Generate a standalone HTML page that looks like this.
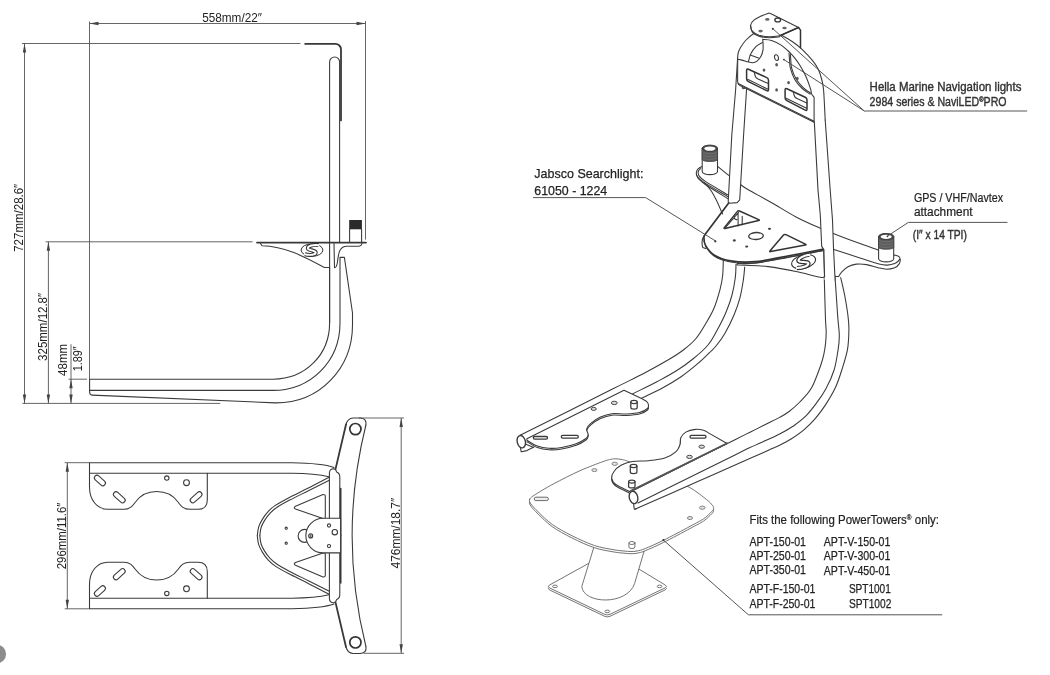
<!DOCTYPE html>
<html><head><meta charset="utf-8">
<style>
html,body{margin:0;padding:0;background:#fff;}
body{width:1050px;height:675px;overflow:hidden;font-family:"Liberation Sans",sans-serif;}
svg{will-change:transform;display:block;position:absolute;left:0;top:0}
.l{stroke:#3a3a3a;stroke-width:1.08;fill:none;stroke-linecap:round;stroke-linejoin:round}
.w{stroke:#3a3a3a;stroke-width:1.08;fill:#fff;stroke-linecap:round;stroke-linejoin:round}
.g{stroke:#8a8a8a;stroke-width:1;fill:#fff;stroke-linecap:round;stroke-linejoin:round}
.w2{stroke:#636363;stroke-width:0.9;fill:#fff;stroke-linecap:round;stroke-linejoin:round}
.l2{stroke:#636363;stroke-width:0.9;fill:none}
.k2{stroke:#555;stroke-width:1.8;fill:none;stroke-linecap:round}
.k3{stroke:#333;stroke-width:1.5;fill:#fff;stroke-linecap:round;stroke-linejoin:round}
.ld{stroke:#4c4c4c;stroke-width:0.95;fill:none}
.k4{stroke:#333;stroke-width:1.7;fill:none;stroke-linecap:round;stroke-linejoin:round}
.h{stroke:#444;stroke-width:1;fill:#ddd}
.h2{stroke:#777;stroke-width:0.9;fill:#e4e4e4}
.gl{stroke:#8a8a8a;stroke-width:1;fill:none;stroke-linecap:round;stroke-linejoin:round}
.d{stroke:#555;stroke-width:0.9;fill:none}
.k{stroke:#383838;stroke-width:1.8;fill:none;stroke-linecap:round;stroke-linejoin:round}
.a{fill:#444;stroke:none}
text{font-family:"Liberation Sans",sans-serif;fill:#222;}
.dt{font-size:13px}
</style></head><body>
<svg width="1050" height="675" viewBox="0 0 1050 675">
<rect width="1050" height="675" fill="#fff"/>
<defs><g id="logo"><ellipse cx="0" cy="0" rx="10.9" ry="6.2" fill="#fff" stroke="#333" stroke-width="1"/>
<path d="M6.6,-5C1.4,-5.8 -4.2,-4.2 -4.2,-1.9C-4.2,0.4 3.4,0 3.7,2.3C4,4.7 -1.8,5.6 -7.2,4.2" fill="none" stroke="#333" stroke-width="4" stroke-linecap="butt"/>
<path d="M7.2,-4.9C1.4,-5.8 -4.2,-4.2 -4.2,-1.9C-4.2,0.4 3.4,0 3.7,2.3C4,4.7 -1.8,5.6 -7.8,4" fill="none" stroke="#fff" stroke-width="1.9" stroke-linecap="butt"/></g></defs>
<circle cx="-3.1" cy="654" r="9.2" fill="#8c8c8c"/>

<!-- ============ SIDE VIEW ============ -->
<g id="side">
<!-- dims -->
<path class="d" d="M89.5,21.5V379 M365.5,21V239.6 M89.5,23.5H365.5 M22,43.5H300.4 M24.5,43.5V403.4 M45.6,241.8H252.6 M48.4,241.8V403.4 M71,344.3V403.4 M68.5,379.2H87 M22.4,403.4H220.3"/>
<path class="a" d="M89.5,23.5l9,-1.7v3.4z M365.5,23.5l-9,-1.7v3.4z M24.5,43.5l-1.7,9h3.4z M24.5,403.4l-1.7,-9h3.4z M48.4,241.8l-1.7,9h3.4z M48.4,403.4l-1.7,-9h3.4z M71,379.2l-1.7,9h3.4z M71,403.4l-1.7,-9h3.4z"/>
<!-- tube -->
<path class="l" d="M329.6,323V62a5,5 0 0 1 10,0V242.6"/>
<path class="l" d="M329.6,267.6V322C330,355 305,379.2 273,379.2H89.6V392"/>
<path class="l" d="M340,257.4V323C340,362 310,390.4 273,390.4H89.6"/>
<path class="l" d="M89.6,392Q89.8,395 92,395.1L275.7,402.9C320,403 352.5,368 352.5,325V313L344.4,257.4H340.4"/>
<!-- top bracket -->
<path class="k" d="M305.2,43.9H335.5a5.5,5.5 0 0 1 5.5,5.5V120.4"/>
<!-- plate -->
<path class="k" d="M257,242.6H366"/>
<path class="l" d="M260.5,243.5L262,245.8C285,246.5 303,256 324.4,267.5H329.6"/>
<path class="l" d="M334,243.5L334.5,267.8Q336.5,268 337.5,262C338.5,252 340,246.2 347,246.2H359Q361.5,246 362,243.5"/>
<use href="#logo" transform="translate(312,250.1)"/>
<!-- stud -->
<rect x="349.2" y="220" width="12.7" height="9.3" fill="#2a2a2a"/>
<path class="l" d="M349.6,229V242 M361.6,229V242"/>
<!-- texts -->
<text class="dt" x="202.2" y="22" textLength="59.7" lengthAdjust="spacingAndGlyphs">558mm/22″</text>
<text class="dt" transform="translate(23,251.8) rotate(-90)" textLength="68" lengthAdjust="spacingAndGlyphs">727mm/28.6″</text>
<text class="dt" transform="translate(46.8,360.9) rotate(-90)" textLength="68" lengthAdjust="spacingAndGlyphs">325mm/12.8″</text>
<text class="dt" transform="translate(67.4,375.9) rotate(-90)" textLength="32" lengthAdjust="spacingAndGlyphs">48mm</text>
<text class="dt" transform="translate(82,371.3) rotate(-90)" textLength="25" lengthAdjust="spacingAndGlyphs">1.89″</text>
</g>
<!-- ============ TOP VIEW ============ -->
<g id="top">
<path class="d" d="M64.7,462.7H89.5 M64.7,608.8H89.5 M67.3,462.7V608.8 M358.7,418H404 M363.7,653.3H404 M401.2,418V653.3"/>
<path class="a" d="M67.3,462.7l-1.7,9h3.4z M67.3,608.8l-1.7,-9h3.4z M401.2,418l-1.7,9h3.4z M401.2,653.3l-1.7,-9h3.4z"/>
<!-- cross bar -->
<path class="l" d="M365.9,425A458.6,458.6 0 0 0 365.9,646.5"/>
<g id="th">
<path class="l" d="M365.9,425Q367,418.6 360.5,418H353Q347.6,418.4 346,424.5"/>
<path class="k" d="M346,424.5L335.4,469.6" style="stroke-width:1.8"/>
<circle cx="355.4" cy="429.1" r="5.6" fill="none" stroke="#333" stroke-width="1.7"/>
<!-- tube -->
<path class="l" d="M89.5,473.3V462.7H292C312,463 326,464.5 334,467.4"/>
<path class="l" d="M207.3,473.3H292C310,473.6 321,475 328.8,476.8"/>
<!-- mount plate -->
<path class="l" d="M89.5,473.3H207.3V500Q207.3,509.3 198,509.3H190C183,509.3 181,506 178,502C173,495 165,491.5 156.7,491.5C148,491.5 140.5,495 135.5,502C132.5,506 130,509.3 124,509.3H108C97,509.3 89.5,500 89.5,487Z"/>
<rect class="l" x="93.4" y="477.9" width="13" height="5.2" rx="2.6" transform="rotate(42 99.9 480.5)"/>
<rect class="l" x="112.3" y="494.7" width="14" height="5.2" rx="2.6" transform="rotate(42 119.3 497.3)"/>
<rect class="l" x="189.1" y="494.7" width="14" height="5.2" rx="2.6" transform="rotate(-42 196.1 497.3)"/>
<circle class="l" cx="166.8" cy="478.1" r="2.2"/>
<circle class="l" cx="186.5" cy="482.7" r="2.9"/>
<!-- D plate -->
<path class="l" d="M329.0,477.3C325.5,479.1 314.6,484.9 307.8,488.3C301.1,491.7 294.0,495.0 288.5,497.9C283.0,500.8 278.4,503.4 275.0,505.6C271.6,507.9 270.4,509.1 268.3,511.4C266.2,513.6 264.1,516.5 262.5,519.1C260.9,521.7 259.6,524.0 258.7,526.8C257.8,529.6 257.5,534.3 257.3,535.8"/>
<path class="l" d="M329.3,480.2C325.9,481.9 315.5,487.2 308.9,490.5C302.3,493.8 295.1,497.3 289.7,500.1C284.2,503.0 279.6,505.5 276.4,507.7C273.1,509.8 272.1,511.0 270.1,513.1C268.2,515.2 266.1,518.0 264.6,520.4C263.1,522.8 261.9,525.0 261.1,527.5C260.3,530.1 260.0,534.4 259.8,535.8"/>
<!-- triangle -->
<path class="l" d="M323,494.6Q325.3,494.3 325.3,496.5V517Q325.2,519.3 323,518.6L295.5,509Q293,507.8 295.5,506.3Z"/>
<!-- bracket -->
<path class="w" d="M329.4,535.75V473Q329.6,468.8 333.5,468.8Q336,469 336.6,472Q339.8,473.2 339.8,477V535.75"/>
<path class="k" d="M340.7,488.5V535.75" style="stroke-width:1.6"/>
</g>
<use href="#th" transform="translate(0,1071.5) scale(1,-1)"/>
<!-- small circle & plate -->
<circle class="l" cx="304.6" cy="535.9" r="6.5"/>
<path class="w" d="M340.6,518.2H323.2A17.3,17.3 0 0 0 323.2,552.9H340.6Z"/>
<circle class="l" cx="329" cy="525.5" r="1.6"/>
<circle class="l" cx="329" cy="546.1" r="1.6"/>
<circle class="l" cx="334.8" cy="532.2" r="2.7"/>
<circle class="l" cx="310.7" cy="535.9" r="2"/>
<circle cx="310.7" cy="535.9" r="1" fill="#555"/>
<circle class="l" cx="286.2" cy="528.2" r="1.1"/>
<circle class="l" cx="286.2" cy="543.2" r="1.1"/>
<text class="dt" transform="translate(65.6,569.3) rotate(-90)" textLength="66.6" lengthAdjust="spacingAndGlyphs">296mm/11.6″</text>
<text class="dt" transform="translate(400,568.5) rotate(-90)" textLength="70.7" lengthAdjust="spacingAndGlyphs">476mm/18.7″</text>
</g>
<!--TOPVIEW_END-->
<!--ISO--><g id="iso">
<path class="w2" d="M549.5,589.9Q546.8,588.6 549.4,587.1L607.4,555.0Q610.0,553.5 612.6,555.1L665.2,587.0Q667.8,588.6 665.1,589.9L610.0,616.3Q607.3,617.6 604.6,616.3Z"/>
<path class="w2" d="M549.5,587.9Q546.8,586.6 549.4,585.1L607.4,553.0Q610.0,551.5 612.6,553.1L665.2,585.0Q667.8,586.6 665.1,587.9L610.0,614.3Q607.3,615.6 604.6,614.3Z"/>
<ellipse class="l2" cx="555" cy="586.4" rx="2.4" ry="1.3"/>
<ellipse class="l2" cx="659.6" cy="586.4" rx="2.4" ry="1.3"/>
<ellipse class="l2" cx="607.3" cy="611.4" rx="2.4" ry="1.3"/>
<path class="w2" d="M594.4,545.5L581.8,586.4C583,604 627,606 634.6,583.5L644.5,549.8Z"/>
<path class="w2" d="M529.6,501.8C530.1,500.4 530.0,500.2 534.0,497.6C538.0,495.0 545.6,490.3 553.3,486.2C561.0,482.1 571.7,476.6 580.0,472.9C588.3,469.2 597.8,465.7 603.0,463.8C608.2,461.9 608.8,462.0 611.0,461.5C613.2,461.0 614.2,460.9 616.0,461.0C617.8,461.1 619.7,461.3 622.0,461.8C624.3,462.3 623.7,461.9 630.0,464.2C636.3,466.5 650.1,471.5 660.0,475.7C669.9,479.9 681.4,485.1 689.1,489.4C696.9,493.7 702.6,498.7 706.5,501.7C710.4,504.7 711.1,506.0 712.3,507.5C713.5,509.0 713.7,509.5 713.6,510.6C713.5,511.7 713.2,512.3 711.5,514.0C709.8,515.7 707.2,518.6 703.6,521.0C700.0,523.4 696.8,524.9 690.1,528.5C683.4,532.1 670.9,538.8 663.4,542.5C655.9,546.2 649.5,549.0 645.1,550.8C640.7,552.6 639.4,552.7 637.0,553.2C634.6,553.7 633.2,553.7 631.0,553.7C628.8,553.7 626.8,553.5 624.0,553.2C621.2,552.9 619.0,552.9 614.1,552.0C609.2,551.1 601.4,550.1 594.4,547.7C587.4,545.4 578.9,541.4 571.9,537.9C564.9,534.4 557.8,530.6 552.2,526.6C546.6,522.6 541.6,517.4 538.1,514.0C534.6,510.6 532.4,508.2 531.0,506.2C529.6,504.2 529.1,503.2 529.6,501.8Z"/>
<path class="w2" d="M529.6,499.6C530.1,498.2 530.0,498.0 534.0,495.4C538.0,492.8 545.6,488.1 553.3,484.0C561.0,479.9 571.7,474.4 580.0,470.7C588.3,467.0 597.8,463.5 603.0,461.6C608.2,459.7 608.8,459.8 611.0,459.3C613.2,458.8 614.2,458.8 616.0,458.8C617.8,458.9 619.7,459.1 622.0,459.6C624.3,460.1 623.7,459.7 630.0,462.0C636.3,464.3 650.1,469.3 660.0,473.5C669.9,477.7 681.4,482.9 689.1,487.2C696.9,491.5 702.6,496.5 706.5,499.5C710.4,502.5 711.1,503.8 712.3,505.3C713.5,506.8 713.7,507.3 713.6,508.4C713.5,509.5 713.2,510.1 711.5,511.8C709.8,513.5 707.2,516.4 703.6,518.8C700.0,521.2 696.8,522.7 690.1,526.3C683.4,529.9 670.9,536.6 663.4,540.3C655.9,544.0 649.5,546.8 645.1,548.6C640.7,550.4 639.4,550.5 637.0,551.0C634.6,551.5 633.2,551.5 631.0,551.5C628.8,551.5 626.8,551.3 624.0,551.0C621.2,550.7 619.0,550.7 614.1,549.8C609.2,548.9 601.4,547.9 594.4,545.5C587.4,543.1 578.9,539.2 571.9,535.7C564.9,532.2 557.8,528.4 552.2,524.4C546.6,520.4 541.6,515.2 538.1,511.8C534.6,508.4 532.4,506.0 531.0,504.0C529.6,502.0 529.1,501.0 529.6,499.6Z"/>
<rect x="534.2" y="497.2" width="14.2" height="3.4" rx="1.7" fill="#eee" stroke="#6a6a6a" stroke-width="1"/>
<ellipse class="h2" cx="594.4" cy="470.1" rx="2.6" ry="1.5"/>
<ellipse class="h2" cx="614.7" cy="463.8" rx="2.8" ry="1.6"/>
<ellipse class="h2" cx="702.3" cy="507.7" rx="2.8" ry="1.6"/>
<ellipse class="h2" cx="690" cy="518" rx="2.6" ry="1.5"/>
<path class="w2" d="M628.9,543V547A3,1.5 0 0 0 634.9,547V543"/>
<ellipse class="w2" cx="631.9" cy="543" rx="3" ry="1.5"/>
<circle cx="663.4" cy="540.1" r="1.1" fill="#333"/>
<path d="M834.9,275.6C835.2,279.7 836.1,292.6 836.6,300.0C837.1,307.4 837.5,314.0 838.0,320.0C838.5,326.0 839.3,330.9 839.3,336.0C839.3,341.1 838.9,344.6 838.0,350.3C837.1,356.0 836.1,363.6 834.1,370.0C832.1,376.4 828.8,383.5 825.8,389.0C822.8,394.5 819.8,398.7 816.4,403.2C813.0,407.7 809.5,412.4 805.7,416.2C801.9,419.9 798.1,422.7 793.8,425.7C789.4,428.7 784.9,431.2 779.6,434.0C774.3,436.8 766.7,440.0 761.8,442.3C756.9,444.6 754.5,445.5 750.0,447.6C745.5,449.7 743.3,450.9 735.0,455.0C726.7,459.1 716.2,464.3 700.0,472.3C683.8,480.3 648.3,497.9 638.0,503.0L634.8,509.3C645.7,504.5 680.5,489.1 700.0,480.5C719.5,471.9 740.5,462.6 752.0,457.5C763.5,452.4 764.4,452.1 769.0,450.0C773.6,447.9 775.9,447.1 779.6,445.2C783.4,443.3 787.5,441.2 791.5,438.7C795.5,436.2 799.3,433.8 803.3,430.4C807.2,427.0 811.5,422.9 815.2,418.6C819.0,414.3 822.4,409.5 825.8,404.4C829.1,399.3 832.6,393.5 835.3,387.8C838.0,382.1 839.8,376.4 841.8,370.0C843.8,363.6 846.3,356.0 847.5,349.3C848.7,342.6 848.8,335.4 848.9,330.0C849.0,324.6 848.8,322.5 848.1,317.0C847.5,311.5 846.2,303.6 845.0,297.0C843.8,290.4 841.4,280.8 840.7,277.5Z" fill="#fff" stroke="none"/>
<path d="M824.2,275.6C824.3,279.7 824.7,292.6 824.9,300.0C825.1,307.4 825.3,314.7 825.5,320.0C825.7,325.3 826.2,328.2 826.2,332.0C826.2,335.8 826.0,339.2 825.6,343.0C825.2,346.8 824.6,350.8 823.8,354.5C823.0,358.2 822.8,359.4 820.8,365.0C818.8,370.6 815.1,381.6 811.6,387.8C808.1,394.0 803.5,398.1 799.8,402.0C796.0,405.9 792.5,408.9 789.1,411.5C785.7,414.1 783.6,415.2 779.6,417.4C775.6,419.6 770.3,422.0 765.4,424.5C760.5,427.0 755.1,429.7 750.0,432.2C744.9,434.7 743.3,435.5 735.0,439.7C726.7,443.9 717.2,448.5 700.0,457.1C682.8,465.7 643.0,485.5 631.6,491.2L638.0,503.0C648.3,497.9 683.8,480.3 700.0,472.3C716.2,464.3 726.7,459.1 735.0,455.0C743.3,450.9 745.5,449.7 750.0,447.6C754.5,445.5 756.9,444.6 761.8,442.3C766.7,440.0 774.3,436.8 779.6,434.0C784.9,431.2 789.4,428.7 793.8,425.7C798.1,422.7 801.9,419.9 805.7,416.2C809.5,412.4 813.0,407.7 816.4,403.2C819.8,398.7 822.8,394.5 825.8,389.0C828.8,383.5 832.1,376.4 834.1,370.0C836.1,363.6 837.1,356.0 838.0,350.3C838.9,344.6 839.3,341.1 839.3,336.0C839.3,330.9 838.5,326.0 838.0,320.0C837.5,314.0 837.1,307.4 836.6,300.0C836.1,292.6 835.2,279.7 834.9,275.6Z" fill="#fff" stroke="none"/>
<path class="l" d="M824.2,275.6C824.3,279.7 824.7,292.6 824.9,300.0C825.1,307.4 825.3,314.7 825.5,320.0C825.7,325.3 826.2,328.2 826.2,332.0C826.2,335.8 826.0,339.2 825.6,343.0C825.2,346.8 824.6,350.8 823.8,354.5C823.0,358.2 822.8,359.4 820.8,365.0C818.8,370.6 815.1,381.6 811.6,387.8C808.1,394.0 803.5,398.1 799.8,402.0C796.0,405.9 792.5,408.9 789.1,411.5C785.7,414.1 783.6,415.2 779.6,417.4C775.6,419.6 770.3,422.0 765.4,424.5C760.5,427.0 755.1,429.7 750.0,432.2C744.9,434.7 743.3,435.5 735.0,439.7C726.7,443.9 717.2,448.5 700.0,457.1C682.8,465.7 643.0,485.5 631.6,491.2"/>
<path class="l" d="M834.9,275.6C835.2,279.7 836.1,292.6 836.6,300.0C837.1,307.4 837.5,314.0 838.0,320.0C838.5,326.0 839.3,330.9 839.3,336.0C839.3,341.1 838.9,344.6 838.0,350.3C837.1,356.0 836.1,363.6 834.1,370.0C832.1,376.4 828.8,383.5 825.8,389.0C822.8,394.5 819.8,398.7 816.4,403.2C813.0,407.7 809.5,412.4 805.7,416.2C801.9,419.9 798.1,422.7 793.8,425.7C789.4,428.7 784.9,431.2 779.6,434.0C774.3,436.8 766.7,440.0 761.8,442.3C756.9,444.6 754.5,445.5 750.0,447.6C745.5,449.7 743.3,450.9 735.0,455.0C726.7,459.1 716.2,464.3 700.0,472.3C683.8,480.3 648.3,497.9 638.0,503.0"/>
<path class="l" d="M840.7,277.5C841.4,280.8 843.8,290.4 845.0,297.0C846.2,303.6 847.5,311.5 848.1,317.0C848.8,322.5 849.0,324.6 848.9,330.0C848.8,335.4 848.7,342.6 847.5,349.3C846.3,356.0 843.8,363.6 841.8,370.0C839.8,376.4 838.0,382.1 835.3,387.8C832.6,393.5 829.1,399.3 825.8,404.4C822.4,409.5 819.0,414.3 815.2,418.6C811.5,422.9 807.2,427.0 803.3,430.4C799.3,433.8 795.5,436.2 791.5,438.7C787.5,441.2 783.4,443.3 779.6,445.2C775.9,447.1 773.6,447.9 769.0,450.0C764.4,452.1 763.5,452.4 752.0,457.5C740.5,462.6 719.5,471.9 700.0,480.5C680.5,489.1 645.7,504.5 634.8,509.3"/>
<path class="l" d="M633.6,503.6L634.2,508.6Q634.6,509.6 635.8,509"/>
<ellipse class="w" cx="633.5" cy="497.4" rx="4.2" ry="6.3" transform="rotate(-14 633.5 497.4)" style="stroke-width:1.4"/>
<path class="w" d="M685.8,433.6C685.0,434.6 681.8,437.3 680.8,439.3C679.8,441.3 680.9,443.5 680.1,445.8C679.3,448.1 678.7,450.8 676.1,453.1C673.5,455.4 669.4,458.0 664.8,459.5C660.2,461.0 654.0,461.6 648.6,462.2C643.2,462.8 637.0,462.2 632.4,463.0C627.8,463.8 624.1,465.1 621.0,466.8C617.9,468.5 615.3,471.1 613.8,473.3C612.2,475.5 611.3,477.6 611.7,479.8C612.1,482.0 613.3,484.2 616.2,486.3C619.1,488.4 627.0,491.6 629.1,492.7"/>
<path class="w" d="M629.6,491.4L727.1,443.5L708,432.6L708.0,432.6C707.3,432.2 705.7,430.7 703.6,430.2C701.5,429.7 698.5,429.1 695.5,429.4C692.5,429.7 688.2,430.7 685.8,432.1C683.3,433.5 681.8,435.8 680.8,437.8C679.8,439.8 680.9,442.0 680.1,444.3C679.3,446.6 678.7,449.3 676.1,451.6C673.5,453.9 669.4,456.5 664.8,458.0C660.2,459.5 654.0,460.1 648.6,460.7C643.2,461.3 637.0,460.7 632.4,461.5C627.8,462.3 624.1,463.6 621.0,465.3C617.9,467.0 615.3,469.6 613.8,471.8C612.2,474.0 611.3,476.1 611.7,478.3C612.1,480.5 613.3,482.7 616.2,484.8C619.1,486.9 627.0,490.1 629.1,491.2Z"/>
<path class="k2" d="M631,490.9L727.1,443.2"/>
<rect class="l" x="690" y="435.4" width="16" height="2.7" rx="1.35" style="stroke-width:1.3"/>
<ellipse class="h" cx="701.7" cy="446.7" rx="2.8" ry="1.6"/>
<ellipse class="h" cx="689.5" cy="456.9" rx="2.8" ry="1.6"/>
<path class="w" d="M630.3,466V472A3.3,1.6 0 0 0 636.9,472V466" style="stroke-width:1.25"/>
<ellipse class="w" cx="633.6" cy="466" rx="3.3" ry="1.6" style="stroke-width:1.25"/>
<path class="w" d="M628.6,481.6V486.4A3.2,1.5 0 0 0 635,486.4V481.6" style="stroke-width:1.25"/>
<ellipse class="w" cx="631.8" cy="481.6" rx="3.2" ry="1.5" style="stroke-width:1.25"/>
<path d="M736.0,264.3C735.9,266.5 736.0,272.6 735.3,277.7C734.6,282.8 733.5,289.2 732.0,295.0C730.5,300.8 728.5,306.3 726.0,312.3C723.5,318.3 719.7,325.6 716.7,331.0C713.7,336.4 712.0,340.3 708.0,345.0C704.0,349.7 698.2,354.7 692.9,359.0C687.6,363.3 682.3,367.1 676.4,370.8C670.5,374.6 664.7,377.6 657.4,381.5C650.1,385.4 636.6,391.8 632.5,393.9L640.8,398.6C644.5,396.7 656.6,391.0 663.3,387.4C670.0,383.8 675.4,380.6 681.1,376.7C686.8,372.8 693.0,367.7 697.7,363.7C702.4,359.7 706.5,355.6 709.5,352.6C712.5,349.7 713.5,349.1 716.0,346.0C718.5,342.9 721.7,338.9 724.7,333.7C727.7,328.5 731.5,321.0 734.0,315.0C736.5,309.0 738.5,303.5 740.0,297.7C741.5,291.9 742.5,285.4 743.3,280.3C744.1,275.2 744.5,269.2 744.7,267.0Z" fill="#fff" stroke="none"/>
<path d="M723.3,259.7C723.2,262.2 723.2,270.0 722.7,275.0C722.2,280.0 721.5,284.1 720.0,289.7C718.5,295.2 716.4,302.6 714.0,308.3C711.6,314.0 708.5,319.0 705.5,324.0C702.5,329.0 699.6,334.2 696.0,338.5C692.4,342.8 688.5,346.0 684.0,349.5C679.5,353.0 675.6,355.5 669.2,359.3C662.8,363.1 655.0,367.5 645.5,372.5C636.0,377.5 633.0,378.8 612.0,389.3C591.0,399.8 535.0,427.9 519.6,435.6L527.0,446.5C544.6,437.7 610.8,404.7 632.5,393.9C654.2,383.1 650.1,385.4 657.4,381.5C664.7,377.6 670.5,374.6 676.4,370.8C682.3,367.1 687.6,363.3 692.9,359.0C698.2,354.7 704.0,349.7 708.0,345.0C712.0,340.3 713.7,336.4 716.7,331.0C719.7,325.6 723.5,318.3 726.0,312.3C728.5,306.3 730.5,300.8 732.0,295.0C733.5,289.2 734.6,282.8 735.3,277.7C736.0,272.6 735.9,266.5 736.0,264.3Z" fill="#fff" stroke="none"/>
<path class="l" d="M723.3,259.7C723.2,262.2 723.2,270.0 722.7,275.0C722.2,280.0 721.5,284.1 720.0,289.7C718.5,295.2 716.4,302.6 714.0,308.3C711.6,314.0 708.5,319.0 705.5,324.0C702.5,329.0 699.6,334.2 696.0,338.5C692.4,342.8 688.5,346.0 684.0,349.5C679.5,353.0 675.6,355.5 669.2,359.3C662.8,363.1 655.0,367.5 645.5,372.5C636.0,377.5 633.0,378.8 612.0,389.3C591.0,399.8 535.0,427.9 519.6,435.6"/>
<path class="l" d="M736.0,264.3C735.9,266.5 736.0,272.6 735.3,277.7C734.6,282.8 733.5,289.2 732.0,295.0C730.5,300.8 728.5,306.3 726.0,312.3C723.5,318.3 719.7,325.6 716.7,331.0C713.7,336.4 712.0,340.3 708.0,345.0C704.0,349.7 698.2,354.7 692.9,359.0C687.6,363.3 682.3,367.1 676.4,370.8C670.5,374.6 664.7,377.6 657.4,381.5C650.1,385.4 636.6,391.8 632.5,393.9"/>
<path class="l" d="M744.7,267.0C744.5,269.2 744.1,275.2 743.3,280.3C742.5,285.4 741.5,291.9 740.0,297.7C738.5,303.5 736.5,309.0 734.0,315.0C731.5,321.0 727.7,328.5 724.7,333.7C721.7,338.9 718.5,342.9 716.0,346.0C713.5,349.1 712.5,349.7 709.5,352.6C706.5,355.6 702.4,359.7 697.7,363.7C693.0,367.7 686.8,372.8 681.1,376.7C675.4,380.6 670.0,383.8 663.3,387.4C656.6,391.0 644.5,396.7 640.8,398.6"/>
<path class="l" d="M520.4,447.3L521.2,451.8L526.9,450.6L534,447"/>
<path class="l" d="M526,444.2L533,447.2"/>
<ellipse class="w" cx="521.3" cy="441.7" rx="4.1" ry="6.3" transform="rotate(-14 521.3 441.7)" style="stroke-width:1.4"/>
<path class="w" d="M646.8,403.1C647.1,403.6 648.3,405.2 648.4,406.3C648.5,407.4 649.0,408.7 647.5,410.0C646.0,411.3 642.9,413.2 639.4,414.1C635.9,415.0 631.0,415.3 626.4,415.5C621.8,415.7 616.2,414.7 611.9,415.2C607.6,415.7 604.0,416.9 600.5,418.5C597.0,420.1 593.1,422.9 590.8,424.9C588.5,426.9 587.0,428.7 586.6,430.6C586.2,432.5 588.4,434.5 588.2,436.1C588.0,437.7 587.6,438.8 585.6,440.3C583.6,441.8 580.2,443.8 576.2,445.2C572.2,446.6 566.3,448.2 561.7,449.0C557.1,449.8 552.8,450.0 548.7,449.8C544.7,449.6 541.0,449.0 537.4,447.6C533.8,446.2 528.6,442.7 526.9,441.7"/>
<path class="w" d="M526.9,438.8L624,390.2L642.6,399.1L642.6,399.1C643.3,399.5 645.8,400.7 646.8,401.6C647.8,402.6 648.3,403.7 648.4,404.8C648.5,405.9 649.0,407.2 647.5,408.5C646.0,409.8 642.9,411.7 639.4,412.6C635.9,413.5 631.0,413.8 626.4,414.0C621.8,414.2 616.2,413.2 611.9,413.7C607.6,414.2 604.0,415.4 600.5,417.0C597.0,418.6 593.1,421.4 590.8,423.4C588.5,425.4 587.0,427.2 586.6,429.1C586.2,431.0 588.4,433.0 588.2,434.6C588.0,436.2 587.6,437.3 585.6,438.8C583.6,440.3 580.2,442.2 576.2,443.7C572.2,445.1 566.3,446.7 561.7,447.5C557.1,448.3 552.8,448.5 548.7,448.3C544.7,448.1 541.0,447.5 537.4,446.1C533.8,444.8 528.6,441.2 526.9,440.2Z"/>
<rect class="l" x="533.3" y="436.5" width="14.2" height="2.6" rx="1.3" style="stroke-width:1.3"/>
<rect class="l" x="561.3" y="435.4" width="17" height="2.7" rx="1.35" style="stroke-width:1.3"/>
<ellipse class="h" cx="593.7" cy="408.9" rx="2.6" ry="1.5"/>
<ellipse class="h" cx="614.3" cy="402.9" rx="2.9" ry="1.7"/>
<path class="w" d="M630.8,402V407.5A3.2,1.6 0 0 0 637.2,407.5V402" style="stroke-width:1.25"/>
<ellipse class="w" cx="634" cy="402" rx="3.2" ry="1.6" style="stroke-width:1.25"/>
<path class="l" d="M704.0,182.4C705.2,183.8 708.9,187.5 711.1,190.7C713.3,193.9 715.3,198.1 717.0,201.4C718.7,204.8 720.2,208.7 721.1,210.8C722.0,212.9 722.4,213.5 722.6,214.0"/>
<path class="l" d="M717.6,166.4C719.6,168.0 725.5,172.8 729.4,175.9C733.2,179.0 737.5,182.5 740.7,184.8C743.9,187.2 743.6,187.1 748.7,190.0C753.8,192.9 763.4,198.0 771.3,202.5C779.2,207.0 787.8,212.6 796.0,216.9C804.2,221.2 814.3,225.6 820.4,228.3C826.5,231.0 826.0,230.6 832.6,233.2C839.2,235.8 852.4,240.8 860.0,243.6C867.6,246.4 875.1,249.0 878.1,250.1"/>
<path class="l" d="M717.6,166.4C716.3,166.1 712.5,164.8 710.0,164.8C707.5,164.8 704.8,165.5 702.8,166.2C700.8,166.9 699.1,167.7 698.0,168.8C696.9,169.9 696.4,171.6 696.3,172.9C696.2,174.2 696.1,174.9 697.4,176.5C698.7,178.1 699.0,179.1 704.0,182.4C709.0,185.8 723.8,194.2 727.7,196.6"/>
<path class="l" d="M696.6,175.0C696.9,175.6 697.2,177.3 698.6,178.8C700.0,180.3 700.1,180.9 705.0,184.2C709.9,187.5 723.9,196.2 727.7,198.6"/>
<path class="l" d="M700.6,168.6C700.2,169.0 698.8,170.0 698.4,171.0C698.0,172.0 698.1,173.4 698.4,174.4C698.7,175.4 698.8,175.8 700.0,177.0C701.2,178.2 700.8,178.4 705.4,181.4C710.0,184.4 724.0,192.6 727.7,194.8"/>
<path class="w" d="M702.2,148.4V171.4A7.649999999999977,3.2 0 0 0 717.5,171.4V148.4"/>
<path d="M702.2,148.4V159.6A7.649999999999977,1.92 0 0 0 717.5,159.6V148.4A7.649999999999977,3.2 0 0 0 702.2,148.4Z" fill="#5c5c5c" stroke="#444" stroke-width="0.8"/>
<path d="M702.7,151.8A7.649999999999977,3.2 0 0 0 717.0,151.8 M702.7,154.6A7.649999999999977,3.2 0 0 0 717.0,154.6 M702.7,157.4A7.649999999999977,3.2 0 0 0 717.0,157.4" fill="none" stroke="#777" stroke-width="0.7"/>
<ellipse cx="709.85" cy="148.4" rx="7.649999999999977" ry="3.2" fill="#4a4a4a" stroke="#3c3c3c" stroke-width="0.8"/>
<ellipse cx="709.85" cy="148.6" rx="5.649999999999977" ry="2.2" fill="#fff"/>
<path class="l" d="M832.4,249.0C837.0,250.5 852.2,255.5 860.0,258.0C867.8,260.5 874.5,262.9 879.1,264.1C883.7,265.3 884.8,265.2 887.4,265.1C890.0,265.0 892.9,264.3 894.7,263.6C896.5,262.9 897.4,261.8 898.3,261.0C899.2,260.2 899.8,259.6 899.9,258.9C900.0,258.2 899.9,257.4 899.2,256.8C898.5,256.2 896.5,255.6 895.5,255.3C894.5,255.0 893.5,255.2 893.1,255.2"/>
<path class="l" d="M831.6,250.1L833.5,276.5H838.7L838.7,276.5C839.2,275.7 840.2,273.5 841.8,271.9C843.3,270.3 845.6,268.0 848.0,266.7C850.4,265.4 853.2,264.5 856.3,264.1C859.4,263.8 863.1,264.0 866.7,264.6C870.3,265.2 874.8,266.9 878.1,267.7C881.4,268.5 883.6,269.2 886.4,269.2C889.2,269.2 892.5,268.6 894.7,267.7C896.9,266.8 898.5,265.0 899.4,263.6C900.3,262.2 900.2,260.1 900.4,259.4"/>
<path class="w" d="M878.6,236.6V258.8A7.550000000000011,3.1 0 0 0 893.7,258.8V236.6"/>
<path d="M878.6,236.6V247.4A7.550000000000011,1.8599999999999999 0 0 0 893.7,247.4V236.6A7.550000000000011,3.1 0 0 0 878.6,236.6Z" fill="#5c5c5c" stroke="#444" stroke-width="0.8"/>
<path d="M879.1,240.0A7.550000000000011,3.1 0 0 0 893.2,240.0 M879.1,242.79999999999998A7.550000000000011,3.1 0 0 0 893.2,242.79999999999998 M879.1,245.6A7.550000000000011,3.1 0 0 0 893.2,245.6" fill="none" stroke="#777" stroke-width="0.7"/>
<ellipse cx="886.1500000000001" cy="236.6" rx="7.550000000000011" ry="3.1" fill="#4a4a4a" stroke="#3c3c3c" stroke-width="0.8"/>
<ellipse cx="886.1500000000001" cy="236.79999999999998" rx="5.550000000000011" ry="2.1" fill="#fff"/>
<circle cx="887.4" cy="236.3" r="0.9" fill="#333"/>
<path class="w" d="M737.3,263.3L737.3,263.3C740.3,263.3 746.8,264.2 755.2,263.2C763.6,262.2 776.4,259.6 787.8,257.5C799.2,255.4 817.7,251.6 823.7,250.4L824.5,276.4L824.5,276.4C823.8,276.5 825.1,278.0 820.4,277.2C815.6,276.4 804.7,273.3 796.0,271.5C787.3,269.7 776.7,267.7 768.2,266.6C759.7,265.6 750.2,265.5 745.0,265.2C739.8,264.9 738.3,265.0 737.0,265.0Z"/>
<use href="#logo" transform="translate(803.6,261.7) rotate(-14) scale(1.12,1.08)"/>
<path class="l" d="M703.6,236.5C701.8,239 701.6,245 702.8,247.6L705.5,248.6"/>
<path class="k4" d="M728.3,203.4L705.6,233.8L705.6,233.8C705.3,234.4 703.9,235.4 703.9,237.3C703.9,239.2 703.8,242.4 705.5,245.4C707.2,248.4 710.2,252.6 714.4,255.2C718.6,257.8 723.9,259.8 730.7,260.9C737.5,262.0 745.7,262.5 755.2,261.7C764.7,260.9 776.4,258.1 787.8,256.0C799.2,253.9 817.7,250.2 823.7,249.0"/>
<path class="l" d="M705.5,246.5C707.0,248.1 710.2,253.7 714.4,256.3C718.6,258.9 723.9,260.9 730.7,262.0C737.5,263.1 745.7,263.6 755.2,262.8C764.7,262.0 776.4,259.2 787.8,257.1C799.2,255.0 817.7,251.3 823.7,250.1"/>
<path class="k3" d="M737.2,211.6Q738.1,210.4 739.5,211.0L758.7,219.6Q760.1,220.2 758.6,220.5L724.9,228.5Q723.4,228.8 724.3,227.6Z"/>
<path class="l" d="M725.4,227.6L738.6,212.4 M738.1,213V226 M742.2,216.2V224.8 M734.5,216.5C733.5,218 734.8,219.8 736.8,219.6"/>
<path class="k3" d="M783.5,235.1Q784.5,234.0 785.9,234.7L805.4,244.1Q806.8,244.8 805.3,245.1L770.6,251.6Q769.1,251.9 770.1,250.8Z"/>
<ellipse class="l" cx="756" cy="236" rx="7.3" ry="3.5" transform="rotate(-3 756 236)" style="stroke-width:1.3"/>
<ellipse cx="769.5" cy="228.8" rx="1.6" ry="1.15" fill="#444"/>
<ellipse cx="734.3" cy="240.5" rx="1.6" ry="1.15" fill="#444"/>
<ellipse cx="746.7" cy="246.6" rx="1.6" ry="1.15" fill="#444"/>
<circle cx="715.3" cy="241.3" r="1.1" fill="#333"/>
<path d="M737.6,58.0L731.8,135.0L728.2,202.0L729.8,203.2L737.2,202.6L739.7,199.8L743.6,135.0L747.4,75.0L748.6,61.0Z" fill="#fff" stroke="none"/>
<path class="l" d="M737.6,58.0L735.6,90.0L731.8,135.0L728.2,202.0L729.8,203.2L737.2,202.6L739.7,199.8L743.6,135.0L746.7,87.3"/>
<path d="M811.2,94.0L813.9,120.0L818.0,190.0L820.3,215.0L821.7,246.4L823.9,249.6L824.6,280.0L835.2,280.0L833.5,248.0L832.5,220.0L830.2,190.0L825.2,120.0L823.6,90.3Z" fill="#fff" stroke="none"/>
<path class="l" d="M814.3,121.4L818.0,190.0L820.3,215.0L821.7,246.4L823.9,249.6L824.6,277.0"/>
<path class="l" d="M825.2,120.0L830.2,190.0L832.5,220.0L833.5,248.0L835.1,280.0"/>
<path class="l" d="M737.6,58.0C737.7,57.1 737.8,54.2 738.3,52.5C738.8,50.8 739.2,49.7 740.4,47.7C741.6,45.7 743.5,42.8 745.6,40.5C747.7,38.2 750.1,35.9 752.8,34.2C755.5,32.5 758.8,31.1 762.0,30.5C765.2,29.9 768.6,29.6 772.0,30.5C775.4,31.4 779.0,34.0 782.4,35.8C785.8,37.6 788.8,39.2 792.2,41.5C795.6,43.8 799.1,46.5 802.6,49.8C806.1,53.1 810.4,57.9 813.0,61.2C815.6,64.5 817.0,66.5 818.4,69.5C819.8,72.5 820.7,75.5 821.6,79.0C822.5,82.5 823.0,83.5 823.6,90.3C824.2,97.1 824.9,115.0 825.2,120.0"/>
<path class="l" d="M748.4,61.8C748.8,60.5 749.5,56.4 750.7,53.9C752.0,51.4 754.1,48.5 755.9,46.7C757.7,44.9 760.2,43.8 761.6,43.0C763.0,42.2 763.6,42.2 764.0,42.0"/>
<path class="l" d="M750.2,55L758.5,58.1"/>
<path class="l" d="M788.0,51.0C789.0,52.0 792.0,54.7 794.0,57.1C796.0,59.5 798.1,62.4 800.0,65.5C801.9,68.6 803.7,71.6 805.5,75.5C807.3,79.4 809.6,86.0 810.6,89.1C811.6,92.2 811.3,93.2 811.4,94.0"/>
<path class="l" d="M738,83.4Q738.3,84.6 739.6,85.2L814.1,122.3"/>
<path class="w" d="M738.5,59.2C739.7,59.5 743.2,60.6 745.6,61.2C748.0,61.8 750.9,62.8 752.8,62.8C754.7,62.8 755.6,62.3 757.0,61.2C758.4,60.1 760.1,57.9 761.1,56.0C762.1,54.1 762.7,51.6 763.0,49.8C763.3,48.0 763.1,46.7 763.1,45.0C763.1,43.3 762.8,40.3 762.7,39.4L762.7,39.4C764.2,39.6 768.3,39.5 771.5,40.5C774.7,41.5 778.8,43.5 781.9,45.6C785.0,47.7 788.8,51.7 790.2,52.9L790.2,52.9C790.3,54.1 790.6,57.5 790.8,60.0C791.0,62.5 790.7,64.5 791.6,67.8C792.5,71.1 794.4,76.2 796.4,79.6C798.4,82.9 801.0,85.6 803.5,87.9C806.0,90.2 809.9,92.6 811.2,93.5L814.1,97.4L814.1,121.2L739.2,84Q737.6,83.2 737.6,81.4L737.7,60.2Z"/>
<path class="l" d="M789.0,53.5C789.1,54.7 789.4,58.1 789.6,60.6C789.8,63.1 789.5,65.1 790.4,68.4C791.3,71.7 793.2,76.8 795.2,80.2C797.2,83.5 799.8,86.2 802.3,88.5C804.8,90.8 808.7,93.2 810.0,94.1"/>
<path class="k3" d="M746.6,70.4Q746.6,68.4 748.4,69.2L766.7,77.6Q768.5,78.4 768.5,80.4L768.5,89.5Q768.5,91.5 766.7,90.6L748.4,81.7Q746.6,80.8 746.6,78.8Z"/>
<path class="l" d="M754.3,72.2L755,75.5Q755.6,78 758,79L768.3,83.6 M747.6,79.3L768,89.2"/>
<path class="k3" d="M785.1,89.9Q785.1,87.9 786.9,88.7L805.2,97.2Q807.0,98.0 807.0,100.0L807.0,109.0Q807.0,111.0 805.2,110.1L786.9,100.7Q785.1,99.8 785.1,97.8Z"/>
<path class="l" d="M793.4,91.8L794,95Q794.6,97.5 797,98.5L806.8,102.9 M786.1,98.3L806.6,108.2"/>
<ellipse class="l" cx="776.5" cy="57.6" rx="1.9" ry="2.9" transform="rotate(-15 776.5 57.6)"/>
<ellipse cx="776.6" cy="64.8" rx="1.35" ry="1.7" fill="#555"/>
<ellipse cx="764" cy="70.1" rx="1.35" ry="1.7" fill="#555"/>
<ellipse cx="788.6" cy="82.6" rx="1.35" ry="1.7" fill="#555"/>
<ellipse cx="776.6" cy="89.9" rx="1.35" ry="1.7" fill="#555"/>
<ellipse cx="797.3" cy="78.4" rx="1.35" ry="1.7" fill="#555"/>
<circle cx="783.9" cy="59.6" r="0.9" fill="#333"/>
<path class="l" d="M742.4,86.4V88.2Q743.6,89.2 744.8,88.4"/>
<path class="w" d="M768.9,13.0C767.6,13.5 763.6,14.9 761.1,16.1C758.6,17.3 755.6,18.7 753.9,20.2C752.2,21.7 751.0,23.1 750.7,24.9C750.4,26.7 750.9,29.4 752.3,31.1C753.7,32.8 756.1,34.3 759.0,35.3C761.9,36.2 765.9,36.7 769.4,36.8C772.9,36.9 778.1,36.0 779.8,35.8L798.5,27.5L770.5,13.6Q769.6,13 768.9,13Z"/>
<path class="k3" d="M779.8,35.8L798.5,27.5"/>
<path class="k3" d="M798.5,27.5L800.5,30.1V47.7"/>
<path class="l" d="M750.7,25.9C751.0,26.9 750.9,30.4 752.3,32.1C753.7,33.8 756.1,35.3 759.0,36.3C761.9,37.2 765.9,37.7 769.4,37.8C772.9,37.9 778.1,37.0 779.8,36.8"/>
<ellipse cx="767.3" cy="19.4" rx="2.2" ry="1.3" fill="#666"/>
<ellipse cx="784.5" cy="28" rx="2.2" ry="1.3" fill="#666"/>
<ellipse cx="760.6" cy="31.1" rx="2.2" ry="1.3" fill="#666"/>
<ellipse cx="777.7" cy="19.9" rx="2.9" ry="1.9" fill="#fff" stroke="#333" stroke-width="1.3"/>
<circle cx="772.8" cy="28.7" r="1" fill="#333"/>
</g>
<!--ISO_END-->
<!--TEXT--><g id="txt">
<path class="ld" d="M772.8,28.7L864.3,111 M783.9,59.6L864.3,111 M864.3,111H1027.1"/>
<path class="ld" d="M533,197.6H645.7L716.2,241.4"/>
<path class="ld" d="M887.4,236.1L908.4,222.4H1007.5"/>
<path class="ld" d="M663.4,540.1L748.4,614.8H942.2"/>
<text x="869.6" y="90.5" font-size="12.6" stroke="#333" stroke-width="0.4" textLength="151.8" lengthAdjust="spacingAndGlyphs" style="fill:#333">Hella Marine Navigation lights</text>
<text x="869.6" y="105.7" font-size="12.6" stroke="#333" stroke-width="0.4" textLength="137" lengthAdjust="spacingAndGlyphs" style="fill:#333">2984 series &amp; NaviLED<tspan font-size="7" dy="-4">®</tspan><tspan dy="4">PRO</tspan></text>
<text x="534.3" y="178.2" font-size="13.6" stroke="#222" stroke-width="0.25" textLength="109.1" lengthAdjust="spacingAndGlyphs">Jabsco Searchlight:</text>
<text x="534.3" y="194.8" font-size="13" stroke="#222" stroke-width="0.25" textLength="72.9" lengthAdjust="spacingAndGlyphs">61050 - 1224</text>
<text x="913.9" y="202.2" font-size="12" stroke="#222" stroke-width="0.2" textLength="89.1" lengthAdjust="spacingAndGlyphs">GPS / VHF/Navtex</text>
<text x="913.9" y="216" font-size="12" stroke="#222" stroke-width="0.2" textLength="58.7" lengthAdjust="spacingAndGlyphs">attachment</text>
<text x="912.8" y="238.8" font-size="12" stroke="#333" stroke-width="0.4" textLength="54" lengthAdjust="spacingAndGlyphs" style="fill:#333">(I″ x 14 TPI)</text>
<text x="749.4" y="524.1" font-size="12.6" stroke="#222" stroke-width="0.2" textLength="189.6" lengthAdjust="spacingAndGlyphs">Fits the following PowerTowers<tspan font-size="7" dy="-4">®</tspan><tspan dy="4"> only:</tspan></text>
<g font-size="13" stroke="#222" stroke-width="0.25">
<text x="749.4" y="545.7" textLength="56.6" lengthAdjust="spacingAndGlyphs">APT-150-01</text>
<text x="749.4" y="559.7" textLength="56.6" lengthAdjust="spacingAndGlyphs">APT-250-01</text>
<text x="749.4" y="574.4" textLength="56.6" lengthAdjust="spacingAndGlyphs">APT-350-01</text>
<text x="823.8" y="546.4" textLength="66.6" lengthAdjust="spacingAndGlyphs">APT-V-150-01</text>
<text x="823.8" y="560.4" textLength="66.6" lengthAdjust="spacingAndGlyphs">APT-V-300-01</text>
<text x="823.8" y="575" textLength="66.6" lengthAdjust="spacingAndGlyphs">APT-V-450-01</text>
<text x="749.4" y="593.2" textLength="66" lengthAdjust="spacingAndGlyphs">APT-F-150-01</text>
<text x="749.4" y="607.5" textLength="66" lengthAdjust="spacingAndGlyphs">APT-F-250-01</text>
<text x="848.9" y="593.2" textLength="41.9" lengthAdjust="spacingAndGlyphs">SPT1001</text>
<text x="848.9" y="607.5" textLength="42.4" lengthAdjust="spacingAndGlyphs">SPT1002</text>
</g>
</g>
<!--TEXT_END-->
</svg>
</body></html>
